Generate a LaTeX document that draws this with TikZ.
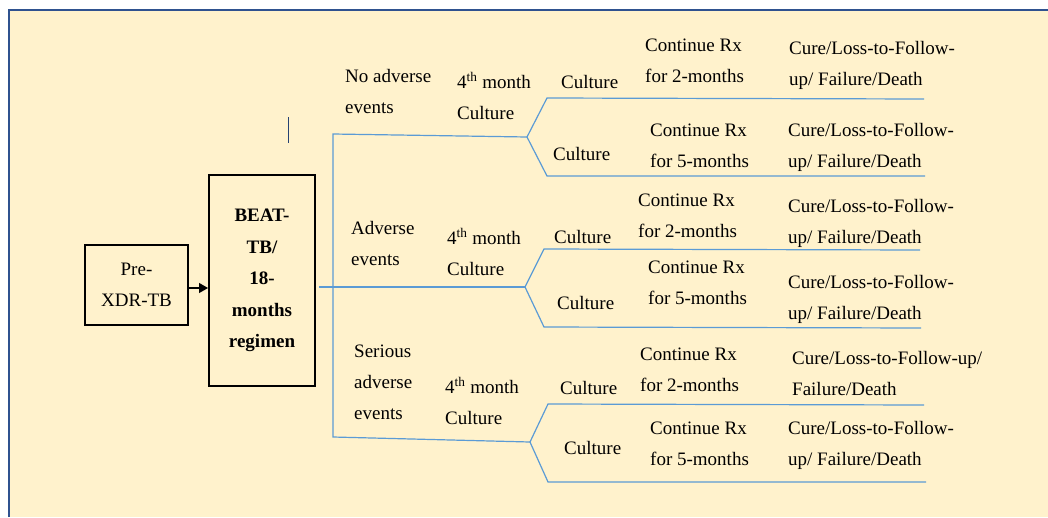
\documentclass[tikz,border=0pt]{standalone}
\usepackage{fontspec}
\setmainfont{Liberation Serif}
\usepackage{tikz}
\usetikzlibrary{arrows.meta}

\begin{document}
\begin{tikzpicture}[x=1pt, y=-1pt,
    lbl/.style={font=\fontsize{19}{31}\selectfont, align=left, inner sep=0pt, anchor=base west},
    branch/.style={draw=lineblue, line width=1.2pt},
    blackbox/.style={draw=black, line width=2pt, inner sep=0pt, align=center,
        font=\fontsize{19}{31}\selectfont}]
    % Define colours
    \definecolor{panelcream}{RGB}{255,242,204} % Light gold
    \definecolor{frameblue}{RGB}{47,82,143}    % Dark blue
    \definecolor{lineblue}{RGB}{91,155,213}    % Accent blue
    \def\th{\textsuperscript{th}}

    % Background panel
    \useasboundingbox (0,0) rectangle (1048,517);
    \fill[white] (0,0) rectangle (1048,517);
    \fill[panelcream] (10,11) rectangle (1048,517);
    \draw[frameblue, line width=2pt] (9,517) -- (9,10) -- (1048,10);
    \draw[frameblue!80!black, line width=1pt] (288,117) -- (288,143);

    % Regimen boxes
    \node[blackbox, minimum width=103, minimum height=80] (pre) at (136.5,285) {Pre-\\XDR-TB};
    \node[blackbox, minimum width=106, minimum height=211, font=\fontsize{19}{31.5}\selectfont\bfseries]
        (beat) at (262,280.5) {BEAT-\\TB/\\18-\\months\\regimen};
    \draw[-{Triangle[length=9pt,width=10pt]}, line width=1.2pt]
        ([yshift=-3pt]pre.east) -- ([yshift=-3pt]pre.east -| beat.west);

    % Trunk of the tree (base anchor = last line of each label)
    \coordinate (fork1) at (527,137);
    \coordinate (fork2) at (525,287);
    \coordinate (fork3) at (530,442);
    \coordinate (tick) at (319,287);
    \draw[branch] (fork1) -- (333,134) -- (333,437) -- (fork3);
    \draw[lineblue!80!black, line width=2pt] (tick) -- (333,287);
    \draw[branch] (tick) -- (fork2);

    % 1. No adverse events
    \begin{scope}
        \draw[branch] (fork1) -- (547,98) -- (924,99);
        \draw[branch] (fork1) -- (547,176) -- (925,176);
        \node[lbl] (evt1) at (345,113) {No adverse\\events};
        \node[lbl] (mon1) at (457,119) {4\th{} month\\Culture};
        \node[lbl] (cul1a) at (561,88) {Culture};
        \node[lbl] (rx1a) at (645,82) {Continue Rx\\for 2-months};
        \node[lbl] (out1a) at (789,85) {Cure/Loss-to-Follow-\\up/ Failure/Death};
        \node[lbl] (cul1b) at (553,160) {Culture};
        \node[lbl] (rx1b) at (650,167) {Continue Rx\\for 5-months};
        \node[lbl] (out1b) at (788,167) {Cure/Loss-to-Follow-\\up/ Failure/Death};
    \end{scope}

    % 2. Adverse events
    \begin{scope}
        \draw[branch] (fork2) -- (544,249) -- (920,250);
        \draw[branch] (fork2) -- (544,327) -- (921,328);
        \node[lbl] (evt2) at (351,265) {Adverse\\events};
        \node[lbl] (mon2) at (447,275) {4\th{} month\\Culture};
        \node[lbl] (cul2a) at (554,243) {Culture};
        \node[lbl] (rx2a) at (638,237) {Continue Rx\\for 2-months};
        \node[lbl] (out2a) at (788,243) {Cure/Loss-to-Follow-\\up/ Failure/Death};
        \node[lbl] (cul2b) at (557,309) {Culture};
        \node[lbl] (rx2b) at (648,304) {Continue Rx\\for 5-months};
        \node[lbl] (out2b) at (788,319) {Cure/Loss-to-Follow-\\up/ Failure/Death};
    \end{scope}

    % 3. Serious adverse events
    \begin{scope}
        \draw[branch] (fork3) -- (548,404) -- (924,405);
        \draw[branch] (fork3) -- (548,482) -- (926,482);
        \node[lbl] (evt3) at (354,419) {Serious\\adverse\\events};
        \node[lbl] (mon3) at (445,424) {4\th{} month\\Culture};
        \node[lbl] (cul3a) at (560,394) {Culture};
        \node[lbl] (rx3a) at (640,391) {Continue Rx\\for 2-months};
        \node[lbl] (out3a) at (792,395) {Cure/Loss-to-Follow-up/\\Failure/Death};
        \node[lbl] (cul3b) at (564,454) {Culture};
        \node[lbl] (rx3b) at (650,465) {Continue Rx\\for 5-months};
        \node[lbl] (out3b) at (788,465) {Cure/Loss-to-Follow-\\up/ Failure/Death};
    \end{scope}

\end{tikzpicture}
\end{document}
